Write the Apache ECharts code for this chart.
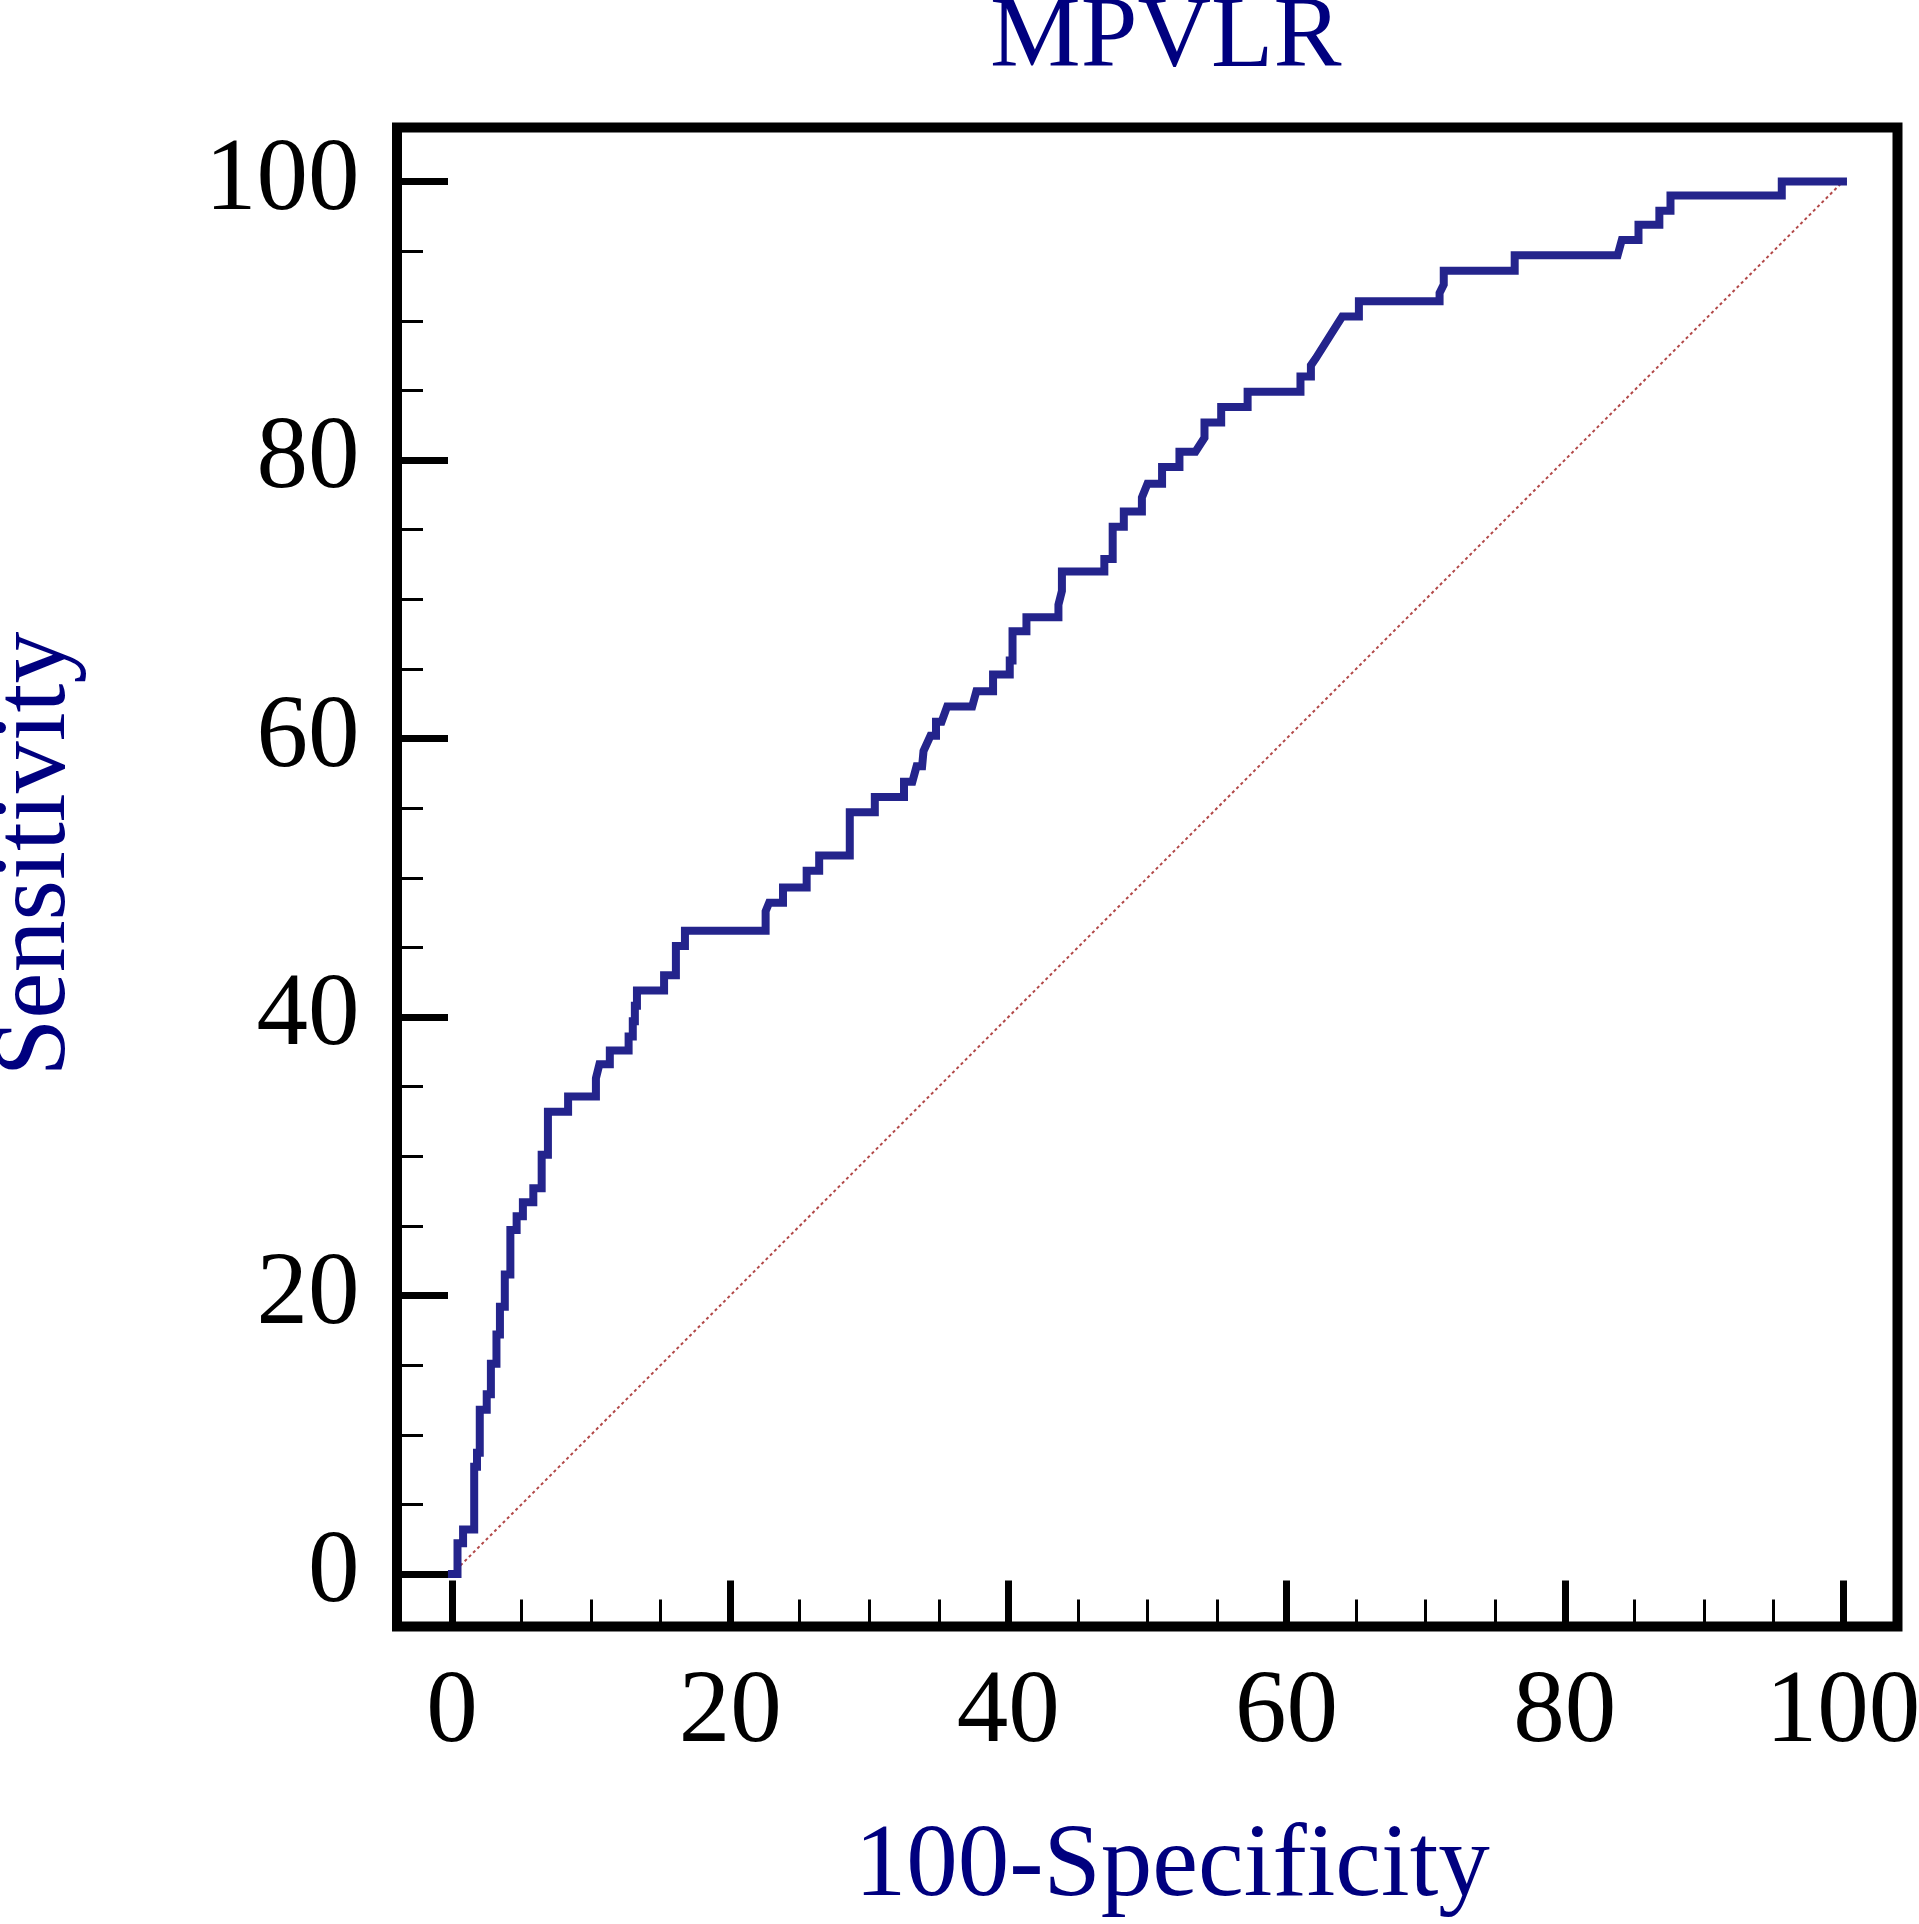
<!DOCTYPE html>
<html>
<head>
<meta charset="utf-8">
<script src="https://cdn.jsdelivr.net/npm/echarts@6/dist/echarts.min.js"></script>
<style>
html,body{margin:0;padding:0;background:#fff;}
#chart{width:1919px;height:1924px;}
</style>
</head>
<body>
<div id="chart"></div>
<script>
// ROC curve vertices: 100-Specificity (x) and Sensitivity (y)
const fpr = [0,0.4,0.4,0.8,0.8,1.6,1.6,1.8,1.8,2.0,2.0,2.5,2.5,2.8,2.8,3.2,3.2,3.45,3.45,3.8,3.8,4.2,4.2,4.65,4.65,5.1,5.1,5.85,5.85,6.45,6.45,6.9,6.9,8.35,8.35,10.35,10.35,10.6,11.35,11.35,12.7,12.7,13.0,13.0,13.15,13.15,13.3,13.3,15.25,15.25,16.1,16.1,16.75,16.75,22.55,22.55,22.8,23.8,23.8,25.5,25.5,26.4,26.4,28.6,28.6,30.4,30.4,32.5,32.5,33.1,33.4,33.8,33.9,34.4,34.8,34.8,35.2,35.6,37.4,37.7,38.9,38.9,40.1,40.1,40.3,40.3,41.3,41.3,43.6,43.6,43.85,43.85,46.9,46.9,47.5,47.5,48.3,48.3,49.6,49.6,50.0,51.05,51.05,52.3,52.3,53.45,54.1,54.1,55.3,55.3,57.2,57.2,61.0,61.0,61.75,61.75,62.1,63.3,64.0,65.2,65.2,71.0,71.0,71.3,71.3,76.4,76.4,83.8,84.1,85.3,85.3,86.8,86.8,87.6,87.6,95.6,95.6,100];
const tpr = [0,0,2.2,2.2,3.2,3.2,7.7,7.7,8.7,8.7,11.8,11.8,12.9,12.9,15.1,15.1,17.2,17.2,19.2,19.2,21.5,21.5,24.7,24.7,25.7,25.7,26.7,26.7,27.7,27.7,30.1,30.1,33.2,33.2,34.3,34.3,35.6,36.6,36.6,37.6,37.6,38.6,38.6,39.7,39.7,40.8,40.8,41.9,41.9,43.0,43.0,45.1,45.1,46.2,46.2,47.6,48.2,48.2,49.3,49.3,50.5,50.5,51.6,51.6,54.7,54.7,55.8,55.8,56.9,56.9,58.0,58.0,59.1,60.2,60.2,61.2,61.2,62.3,62.3,63.4,63.4,64.6,64.6,65.6,65.6,67.7,67.7,68.7,68.7,69.6,70.6,72.0,72.0,72.9,72.9,75.2,75.2,76.3,76.3,77.3,78.3,78.3,79.5,79.5,80.6,80.6,81.6,82.7,82.7,83.8,83.8,84.9,84.9,86.0,86.0,86.8,87.3,89.2,90.3,90.3,91.4,91.4,92.0,92.6,93.6,93.6,94.7,94.7,95.8,95.8,96.9,96.9,97.9,97.9,99.0,99.0,100,100];
// reference (chance) line
const diagX = [0,100];
const diagY = [0,100];
// ticks
const majorTicks = [0,20,40,60,80,100];
const minorTicks = [5,10,15,25,30,35,45,50,55,65,70,75,85,90,95];

const FONT = 'Liberation Serif';
const NAVY = '#00007f';

const curve = fpr.map((x,i)=>[x,tpr[i]]);
const diag = diagX.map((x,i)=>[x,diagY[i]]);

const XMIN=-3.95, XMAX=103.92, YMIN=-3.77, YMAX=103.88;

const chart = echarts.init(document.getElementById('chart'));
chart.setOption({
  animation:false,
  backgroundColor:'#fff',
  title:{
    text:'MPVLR', left:985, top:-17,
    textStyle:{fontFamily:FONT, fontSize:102, fontWeight:'normal', color:NAVY}
  },
  grid:{
    left:397, top:127.5, right:21.5, bottom:297.5,
    containLabel:false, outerBoundsMode:'none',
    show:true, borderColor:'#000', borderWidth:10, backgroundColor:'transparent'
  },
  xAxis:[
    {
      type:'value', min:XMIN, max:XMAX, position:'bottom',
      axisLine:{show:false, onZero:false}, splitLine:{show:false},
      axisTick:{show:true, inside:true, length:46, customValues:majorTicks, lineStyle:{color:'#000', width:7}},
      axisLabel:{show:true, customValues:majorTicks, margin:36, fontFamily:FONT, fontSize:103, color:'#000'},
      name:'100-Specificity', nameLocation:'middle', nameGap:190,
      nameTextStyle:{fontFamily:FONT, fontSize:103, color:NAVY, padding:[0,0,0,50]}
    },
    {
      type:'value', min:XMIN, max:XMAX, position:'bottom',
      axisLine:{show:false, onZero:false}, splitLine:{show:false}, axisLabel:{show:false},
      axisTick:{show:true, inside:true, length:27, customValues:minorTicks, lineStyle:{color:'#000', width:3}}
    }
  ],
  yAxis:[
    {
      type:'value', min:YMIN, max:YMAX, position:'left',
      axisLine:{show:false, onZero:false}, splitLine:{show:false},
      axisTick:{show:true, inside:true, length:51, customValues:majorTicks, lineStyle:{color:'#000', width:7}},
      axisLabel:{show:true, customValues:majorTicks, margin:37.5, fontFamily:FONT, fontSize:103, color:'#000'},
      name:'Sensitivity', nameLocation:'middle', nameGap:308,
      nameTextStyle:{fontFamily:FONT, fontSize:104, color:NAVY, padding:[0,0,0,46]}
    },
    {
      type:'value', min:YMIN, max:YMAX, position:'left',
      axisLine:{show:false, onZero:false}, splitLine:{show:false}, axisLabel:{show:false},
      axisTick:{show:true, inside:true, length:26, customValues:minorTicks, lineStyle:{color:'#000', width:3}}
    }
  ],
  series:[
    {
      type:'line', data:diag, xAxisIndex:0, yAxisIndex:0,
      symbol:'none', silent:true,
      lineStyle:{color:'#b24848', width:2, type:[3,3]}
    },
    {
      type:'line', data:curve, xAxisIndex:0, yAxisIndex:0,
      symbol:'none', silent:true, smooth:false,
      lineStyle:{color:'#24248c', width:8, join:'miter', cap:'square'}
    }
  ]
});
</script>
</body>
</html>
